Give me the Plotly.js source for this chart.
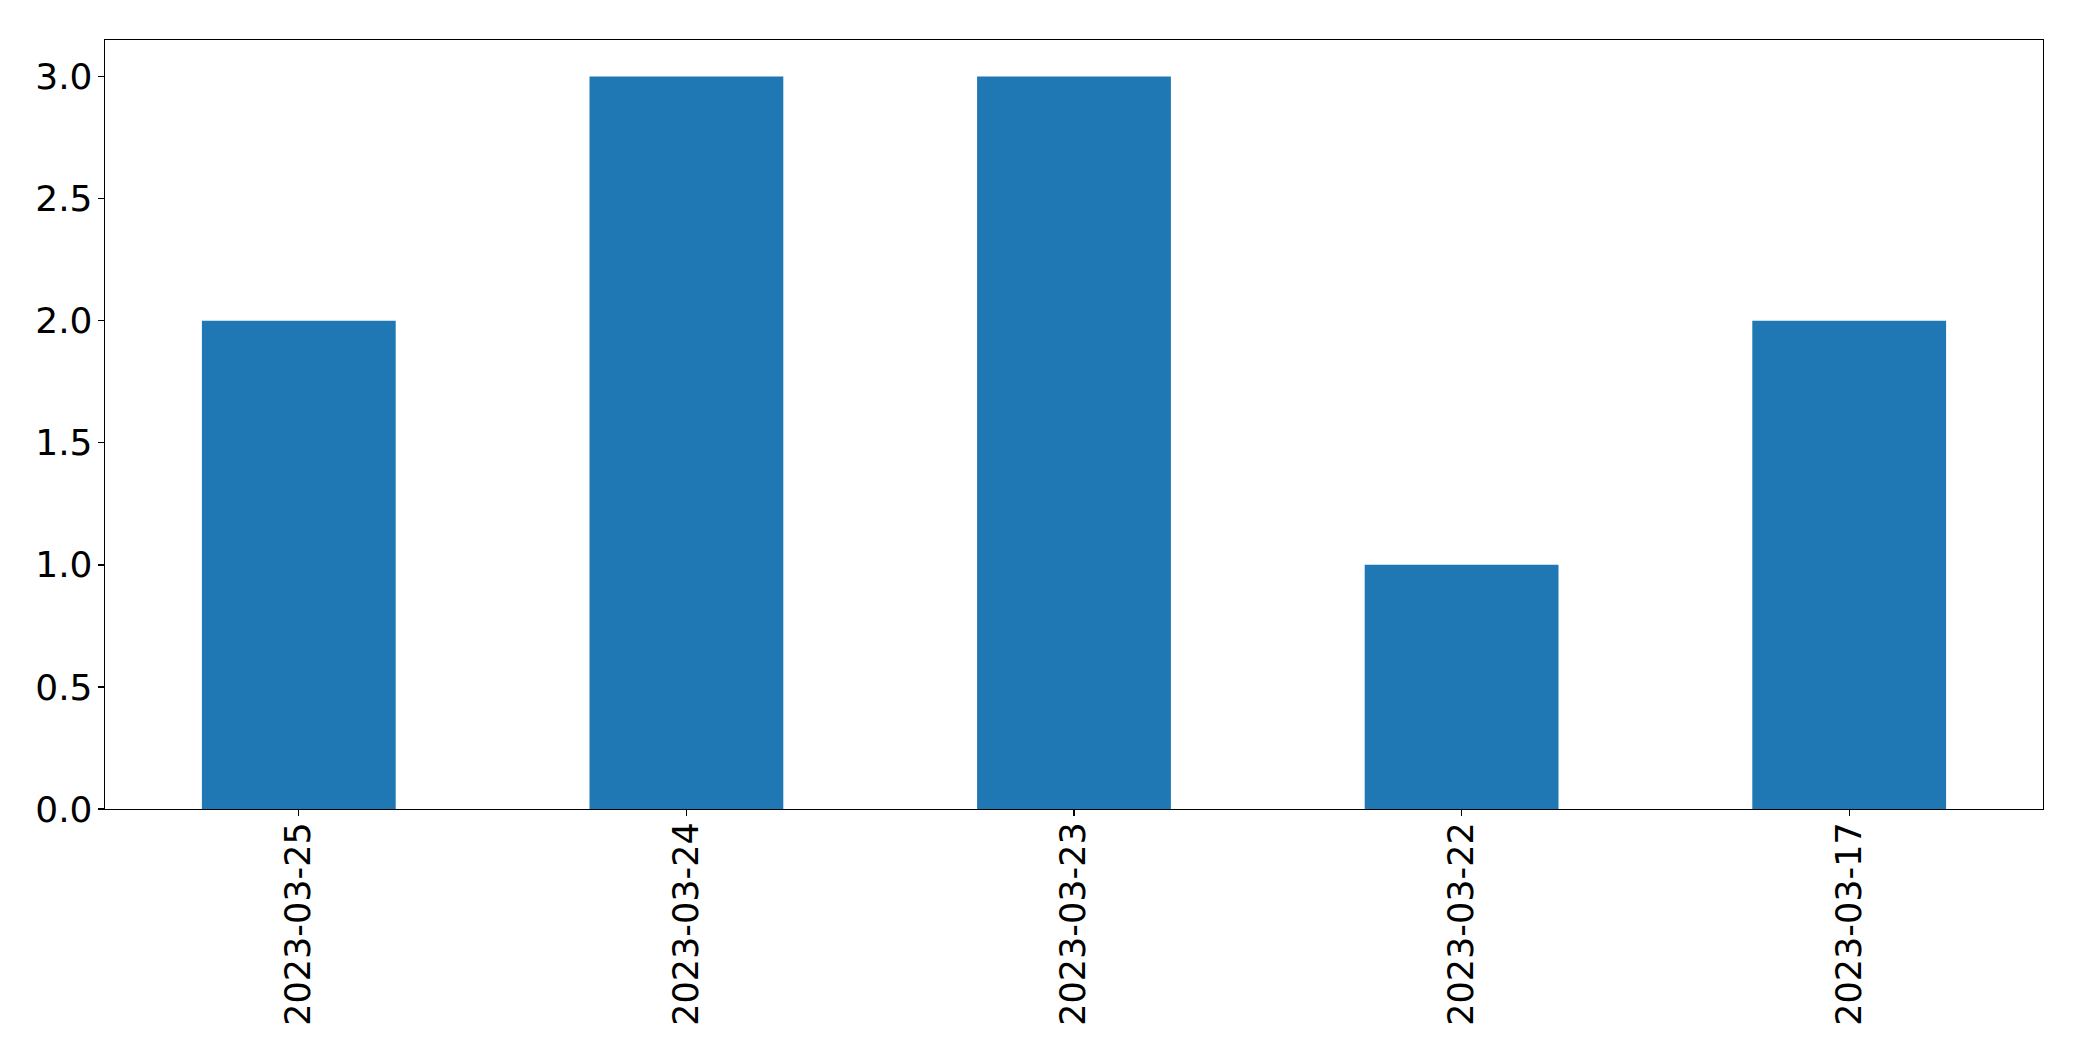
<!DOCTYPE html>
<html>
<head>
<meta charset="utf-8">
<script src="https://cdn.plot.ly/plotly-3.0.1.min.js"></script>
<style>html,body{margin:0;padding:0;background:#fff;}#chart{width:2082px;height:1061px;}</style>
</head>
<body>
<div id="chart"></div>
<script>
const dates = ["2023-03-25", "2023-03-24", "2023-03-23", "2023-03-22", "2023-03-17"];
const counts = [2, 3, 3, 1, 2];
const yTicks = [0, 0.5, 1, 1.5, 2, 2.5, 3];
const yTickText = ["0.0", "0.5", "1.0", "1.5", "2.0", "2.5", "3.0"];

const trace = {
  type: "bar",
  x: dates,
  y: counts,
  width: 0.5,
  marker: {color: "#1f77b4", line: {width: 0}},
  hoverinfo: "x+y"
};

const xFont = {family: "DejaVu Sans, sans-serif", size: 35, color: "#000"};
const yFont = {family: "DejaVu Sans, sans-serif", size: 36, color: "#000"};
const layout = {
  width: 2082, height: 1061,
  margin: {l: 105, r: 39, t: 40, b: 252, pad: 0},
  paper_bgcolor: "#fff", plot_bgcolor: "#fff",
  showlegend: false,
  font: yFont,
  xaxis: {
    type: "category",
    range: [-0.5, 4.5],
    showgrid: false, zeroline: false,
    showline: true, mirror: true, linecolor: "#000", linewidth: 1.3,
    ticks: "outside", ticklen: 6, tickwidth: 1.3, tickcolor: "#000",
    tickangle: -90, tickfont: xFont, ticklabelstandoff: -8,
    automargin: false
  },
  yaxis: {
    range: [0, 3.15],
    tickvals: yTicks, ticktext: yTickText,
    showgrid: false, zeroline: false,
    showline: true, mirror: true, linecolor: "#000", linewidth: 1.3,
    ticks: "outside", ticklen: 6, tickwidth: 1.3, tickcolor: "#000",
    tickfont: yFont, ticklabelstandoff: -2,
    automargin: false
  }
};
Plotly.newPlot("chart", [trace], layout, {displayModeBar: false, staticPlot: true});
</script>
</body>
</html>
